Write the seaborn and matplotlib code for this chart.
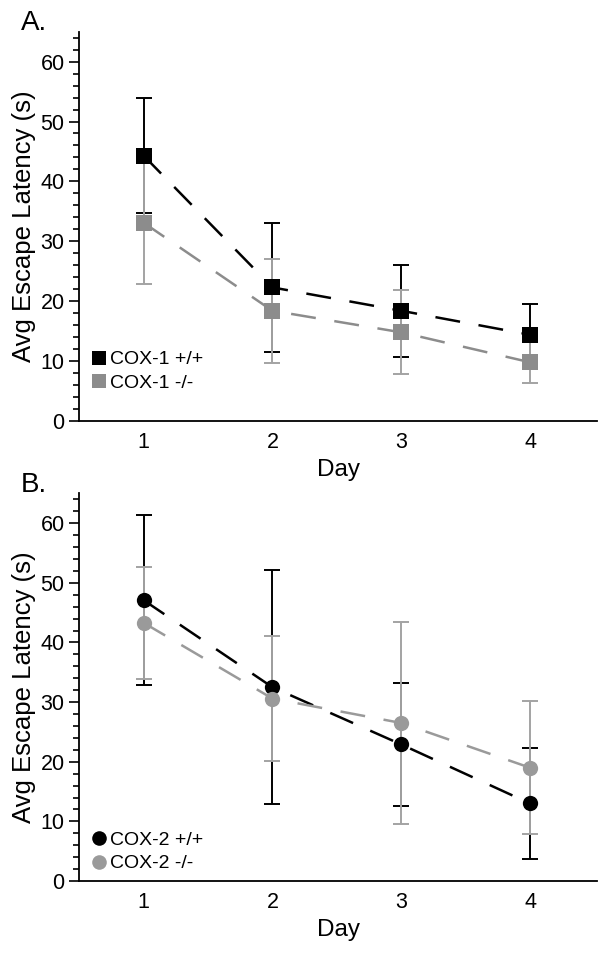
import matplotlib
matplotlib.use("Agg")
import matplotlib.pyplot as plt
from matplotlib.lines import Line2D
from matplotlib.ticker import MultipleLocator
import seaborn as sns
import pandas as pd

# values (mean and SEM-style error, seconds)
days = [1, 2, 3, 4]

cox1_labels = ["COX-1 +/+", "COX-1 -/-"]
cox1_wt_mean = [44.3, 22.3, 18.4, 14.4]
cox1_wt_err = [9.6, 10.8, 7.7, 5.2]
cox1_ko_mean = [33.1, 18.4, 14.8, 9.8]
cox1_ko_err = [10.2, 8.7, 7.0, 3.4]

cox2_labels = ["COX-2 +/+", "COX-2 -/-"]
cox2_wt_mean = [47.1, 32.5, 22.9, 13.0]
cox2_wt_err = [14.3, 19.6, 10.3, 9.3]
cox2_ko_mean = [43.3, 30.6, 26.5, 19.0]
cox2_ko_err = [9.4, 10.5, 17.0, 11.2]

sns.set_style("ticks")
plt.rcParams["font.family"] = ["Liberation Sans", "DejaVu Sans"]
# plain black text and axes, like the original figure
for key in ("text.color", "axes.labelcolor", "xtick.color", "ytick.color",
            "axes.edgecolor"):
    plt.rcParams[key] = "black"


def draw_panel(ax, labels, means, errs, marker, colors, err_colors, tag, leg_y):
    # long-form table for seaborn
    rows = []
    for lab, m in zip(labels, means):
        for d, v in zip(days, m):
            rows.append({"Day": d, "Latency": v, "Genotype": lab})
    df = pd.DataFrame(rows)

    # error bars first so the markers sit on top
    for i, (m, e) in enumerate(zip(means, errs)):
        ax.errorbar(days, m, yerr=e, fmt="none", ecolor=err_colors[i],
                    elinewidth=1.4, capsize=5.5, capthick=1.4, zorder=1 + i)

    sns.lineplot(data=df, x="Day", y="Latency", hue="Genotype", style="Genotype",
                 palette=dict(zip(labels, colors)),
                 markers={labels[0]: marker, labels[1]: marker},
                 dashes={labels[0]: (10, 7.5), labels[1]: (10, 7.5)},
                 linewidth=1.8, markersize=11, markeredgewidth=0,
                 legend=False, ax=ax, zorder=4)

    ax.set_xlim(0.5, 4.52)
    ax.set_ylim(0, 65)
    ax.set_xticks(days)
    ax.yaxis.set_major_locator(MultipleLocator(10))
    ax.yaxis.set_minor_locator(MultipleLocator(2))
    ax.set_yticks([0, 10, 20, 30, 40, 50, 60])
    ax.tick_params(axis="x", length=0, pad=8, labelsize=15.5)
    ax.tick_params(axis="y", which="major", direction="out", length=7.5,
                   width=1.2, pad=3, labelsize=15.5)
    ax.tick_params(axis="y", which="minor", direction="out", length=4.5, width=1.2)
    ax.set_xlabel("Day", fontsize=17.5, labelpad=4)
    ax.set_ylabel("Avg Escape Latency (s)", fontsize=18.5, labelpad=3)
    sns.despine(ax=ax)
    for s in ("left", "bottom"):
        ax.spines[s].set_linewidth(1.3)

    handles = [Line2D([], [], ls="none", marker=marker, markersize=10.5,
                      markeredgewidth=0, color=c) for c in colors]
    ax.legend(handles, labels, loc="lower left", bbox_to_anchor=(0.0, leg_y),
              frameon=False, fontsize=14, handlelength=0.8, handletextpad=0.2,
              labelspacing=0.3, borderaxespad=0.2)
    ax.figure.text(ax.get_position().x0 - 0.097, ax.get_position().y1 + 0.009, tag,
                   fontsize=20, ha="left", va="center")


fig = plt.figure(figsize=(6, 9.6), dpi=100)
ax_a = fig.add_axes([0.132, 0.5615, 0.863, 0.4055])
ax_b = fig.add_axes([0.132, 0.0823, 0.863, 0.4037])

draw_panel(ax_a, cox1_labels, [cox1_wt_mean, cox1_ko_mean], [cox1_wt_err, cox1_ko_err],
           "s", ["#000000", "#8c8c8c"], ["#000000", "#a3a3a3"], "A.", 0.045)
draw_panel(ax_b, cox2_labels, [cox2_wt_mean, cox2_ko_mean], [cox2_wt_err, cox2_ko_err],
           "o", ["#000000", "#9a9a9a"], ["#000000", "#a3a3a3"], "B.", -0.008)

fig.savefig("out.png", dpi=100)
plt.close(fig)
